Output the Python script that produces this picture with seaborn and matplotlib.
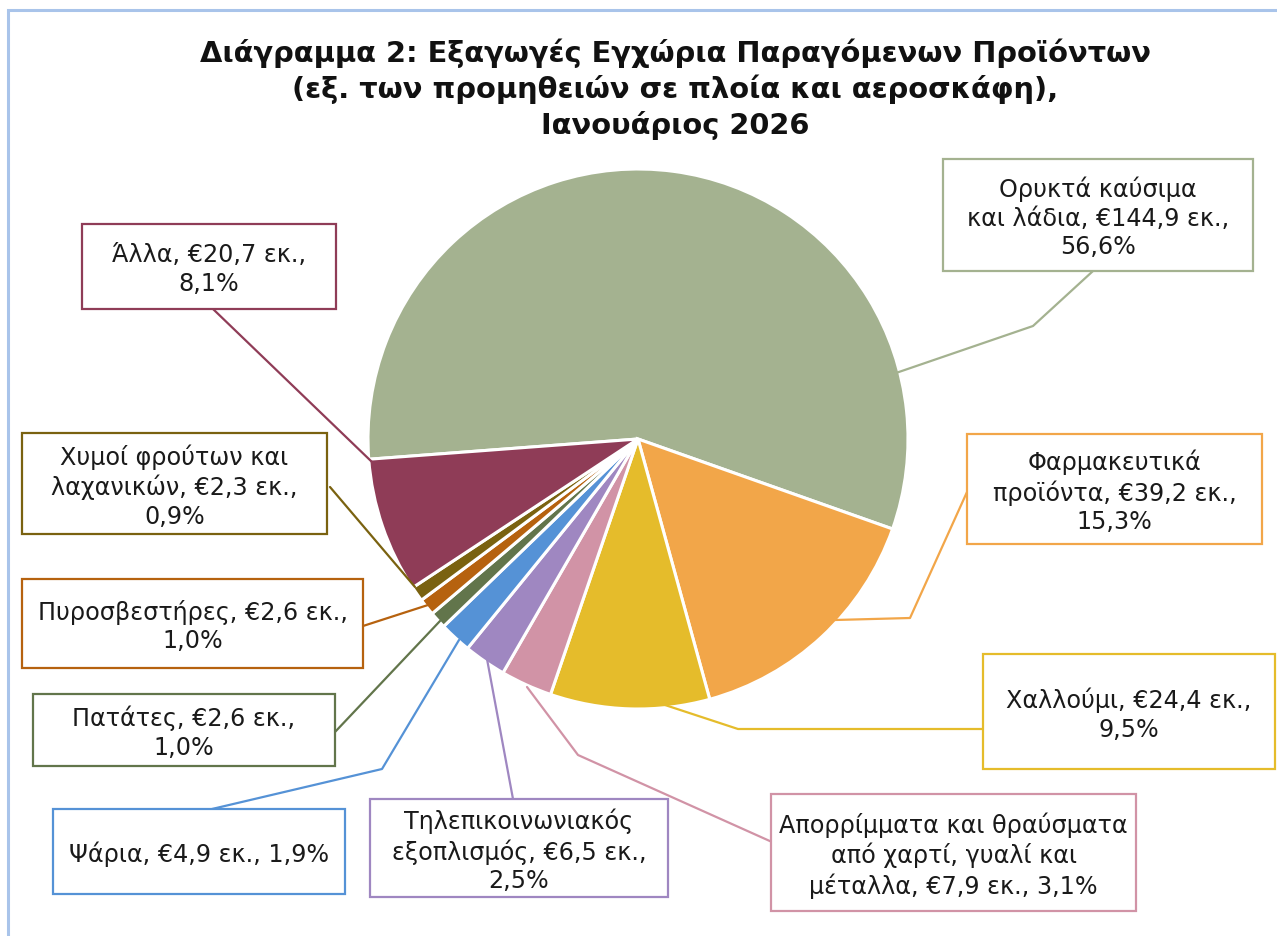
import matplotlib
matplotlib.use("Agg")
import matplotlib.pyplot as plt
from matplotlib.patches import Rectangle
import seaborn as sns

# ---- data ----
categories = [
    "Ορυκτά καύσιμα\nκαι λάδια, €144,9 εκ.,\n56,6%",
    "Φαρμακευτικά\nπροϊόντα, €39,2 εκ.,\n15,3%",
    "Χαλλούμι, €24,4 εκ.,\n9,5%",
    "Απορρίμματα και θραύσματα\nαπό χαρτί, γυαλί και\nμέταλλα, €7,9 εκ., 3,1%",
    "Τηλεπικοινωνιακός\nεξοπλισμός, €6,5 εκ.,\n2,5%",
    "Ψάρια, €4,9 εκ., 1,9%",
    "Πατάτες, €2,6 εκ.,\n1,0%",
    "Πυροσβεστήρες, €2,6 εκ.,\n1,0%",
    "Χυμοί φρούτων και\nλαχανικών, €2,3 εκ.,\n0,9%",
    "Άλλα, €20,7 εκ.,\n8,1%",
]
values = [144.9, 39.2, 24.4, 7.9, 6.5, 4.9, 2.6, 2.6, 2.3, 20.7]
colors = ["#A4B290", "#F2A649", "#E5BC2B", "#D193A6", "#9F87C1",
          "#5592D6", "#62754B", "#B6620F", "#7A6210", "#8F3C57"]
title = ("Διάγραμμα 2: Εξαγωγές Εγχώρια Παραγόμενων Προϊόντων\n"
         "(εξ. των προμηθειών σε πλοία και αεροσκάφη),\n"
         "Ιανουάριος 2026")

# ---- layout (pixel coordinates, y from top) ----
W, H = 1277, 937
boxes = [
    (943, 160, 1253, 272),
    (967, 435, 1262, 545),
    (983, 655, 1275, 770),
    (771, 795, 1136, 912),
    (370, 800, 668, 898),
    (53, 810, 345, 895),
    (33, 695, 335, 767),
    (22, 580, 363, 669),
    (22, 434, 327, 535),
    (82, 225, 336, 310),
]
leaders = [
    [(1093, 272), (1033, 327), (893, 375)],
    [(967, 493), (910, 619), (835, 621)],
    [(983, 730), (738, 730), (665, 706)],
    [(772, 843), (578, 756), (527, 688)],
    [(513, 800), (487, 660)],
    [(212, 810), (382, 770), (459, 641)],
    [(335, 733), (440, 622)],
    [(363, 627), (428, 606)],
    [(330, 488), (415, 588)],
    [(213, 310), (372, 463)],
]

sns.set_theme(style="white")
plt.rcParams["font.family"] = ["DejaVu Sans"]

fig = plt.figure(figsize=(W / 100, H / 100), dpi=100)
ax = fig.add_axes([0, 0, 1, 1])

def Y(y):
    return H - y

# outer chart frame (top and left visible)
ax.plot([8, 8, W + 5], [Y(H + 5), Y(11), Y(11)], color="#A9C4EA", lw=2.2,
        solid_joinstyle="miter", zorder=1)

ax.pie(values, colors=colors, startangle=184.3, counterclock=False,
       center=(638, Y(440)), radius=270,
       wedgeprops=dict(edgecolor="white", linewidth=2.2), frame=True)
ax.set_xlim(0, W)
ax.set_ylim(0, H)
ax.set_aspect("equal")
ax.axis("off")

for lab, col, (x0, y0, x1, y1), pts in zip(categories, colors, boxes, leaders):
    xs = [p[0] for p in pts]
    ys = [Y(p[1]) for p in pts]
    ax.plot(xs, ys, color=col, lw=1.6, zorder=3)
    ax.add_patch(Rectangle((x0, Y(y1)), x1 - x0, y1 - y0, facecolor="white",
                           edgecolor=col, lw=1.6, zorder=4))
    ax.text((x0 + x1) / 2, Y((y0 + y1) / 2 + 2), lab, ha="center", va="center",
            fontsize=17.2, color="#1a1a1a", linespacing=1.24, zorder=5)

ax.text(675, Y(89), title, ha="center", va="center", fontsize=20.8,
        fontweight="bold", color="#111111", linespacing=1.3)

fig.savefig("out.png", dpi=100, facecolor="white")
